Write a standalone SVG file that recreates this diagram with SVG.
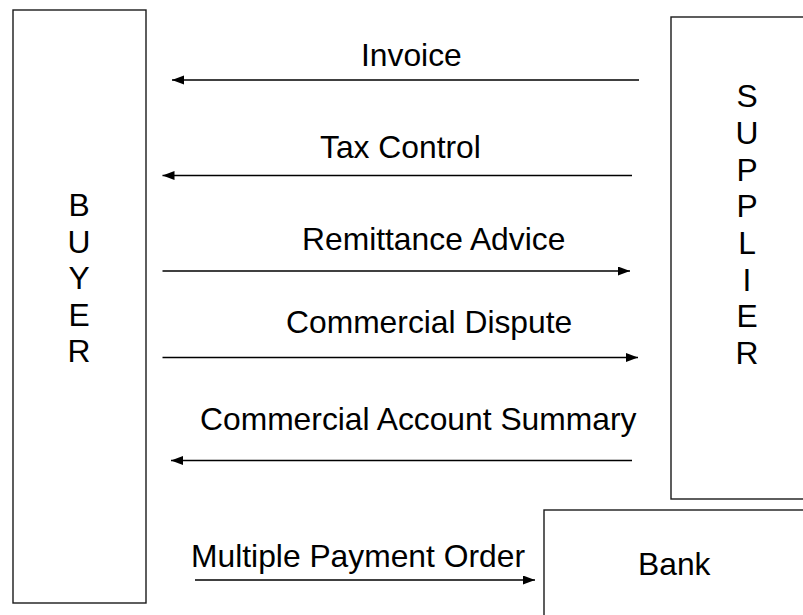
<svg xmlns="http://www.w3.org/2000/svg" width="803" height="615" viewBox="0 0 803 615">
<style>
.box{fill:#fff;stroke:#1a1a1a;stroke-width:1.4}
.lbl{font-family:"Liberation Sans",Arial,sans-serif;font-size:31.8px;fill:#000}
.conn{stroke:#000;stroke-width:1.4;fill:none;marker-end:url(#ah)}
</style>
<defs>
<marker id="ah" markerUnits="userSpaceOnUse" markerWidth="13" markerHeight="10" refX="12" refY="4.5" orient="auto">
<path d="M0,0 L12,4.5 L0,9 z" fill="#000"/>
</marker>
</defs>
<rect width="803" height="615" fill="#fff"/>
<g id="buyer">
<rect class="box" x="13" y="10" width="133" height="593"/>
<text class="lbl" text-anchor="middle"><tspan x="79" y="216">B</tspan><tspan x="79" y="252.5">U</tspan><tspan x="79" y="289">Y</tspan><tspan x="79" y="325.5">E</tspan><tspan x="79" y="362">R</tspan></text>
</g>
<g id="supplier">
<rect class="box" x="671" y="17" width="150" height="482"/>
<text class="lbl" text-anchor="middle"><tspan x="747" y="107">S</tspan><tspan x="747" y="144">U</tspan><tspan x="747" y="180.5">P</tspan><tspan x="747" y="217">P</tspan><tspan x="747" y="254">L</tspan><tspan x="747" y="290.5">I</tspan><tspan x="747" y="327">E</tspan><tspan x="747" y="364">R</tspan></text>
</g>
<g id="bank">
<rect class="box" x="544" y="510" width="300" height="130"/>
<text class="lbl" x="638" y="575">Bank</text>
</g>
<g id="connectors">
<line class="conn" x1="639" y1="80" x2="172" y2="80"/>
<text class="lbl" x="361" y="66">Invoice</text>
<line class="conn" x1="632" y1="175.5" x2="162.5" y2="175.5"/>
<text class="lbl" x="320" y="158">Tax Control</text>
<line class="conn" x1="162.5" y1="271" x2="630" y2="271"/>
<text class="lbl" x="302" y="250">Remittance Advice</text>
<line class="conn" x1="162.5" y1="357.5" x2="638" y2="357.5"/>
<text class="lbl" x="286" y="333">Commercial Dispute</text>
<line class="conn" x1="632" y1="460.5" x2="171" y2="460.5"/>
<text class="lbl" x="200" y="430">Commercial Account Summary</text>
<line class="conn" x1="195" y1="580" x2="535" y2="580"/>
<text class="lbl" x="191" y="567">Multiple Payment Order</text>
</g>
</svg>
